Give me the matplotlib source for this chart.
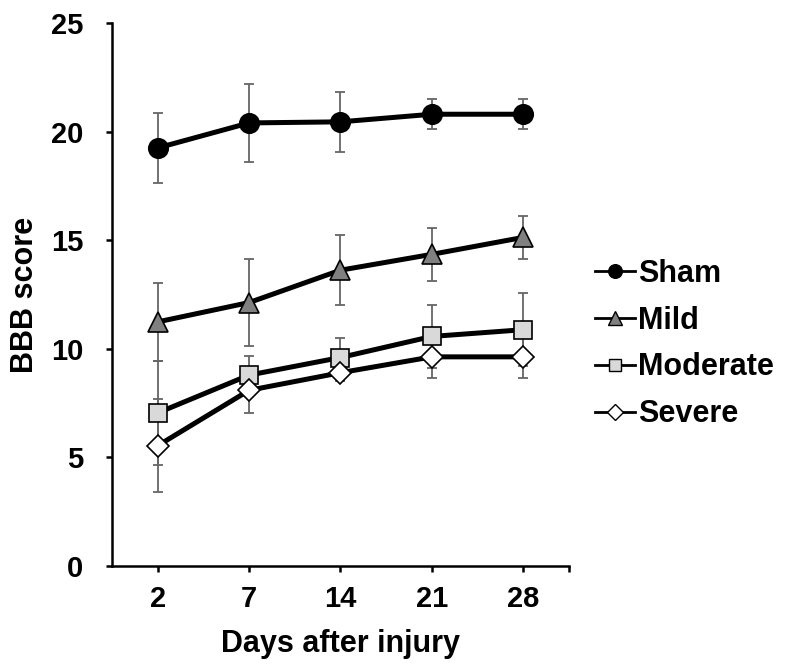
import matplotlib
matplotlib.use("Agg")
import matplotlib.pyplot as plt
from matplotlib.lines import Line2D

plt.rcParams["font.family"] = ["Liberation Sans", "DejaVu Sans"]
plt.rcParams["font.weight"] = "bold"

days = ["2", "7", "14", "21", "28"]
groups = ["Sham", "Mild", "Moderate", "Severe"]

sham = [19.25, 20.4, 20.45, 20.8, 20.8]
sham_err = [1.6, 1.8, 1.37, 0.7, 0.7]
mild = [11.24, 12.13, 13.62, 14.35, 15.13]
mild_err = [1.8, 2.0, 1.6, 1.22, 1.0]
moderate = [7.05, 8.79, 9.6, 10.57, 10.88]
moderate_err = [2.4, 0.88, 0.88, 1.44, 1.69]
severe = [5.54, 8.09, 8.9, 9.63, 9.63]
severe_err = [2.14, 1.03, 0.4, 0.96, 0.96]

series = [sham, mild, moderate, severe]
errors = [sham_err, mild_err, moderate_err, severe_err]
markers = ["o", "^", "s", "D"]
fills = ["black", "#808080", "#d9d9d9", "white"]
sizes = [14, 15, 13, 11]

fig = plt.figure(figsize=(7.85, 6.67), dpi=100)
ax = fig.add_axes([0.1427, 0.1514, 0.5821, 0.8141])
x = list(range(len(days)))

for vals, err in zip(series, errors):
    ax.errorbar(x, vals, yerr=err, fmt="none", ecolor="#666666",
                elinewidth=1.3, capsize=3.5, capthick=1.3, zorder=2)

handles = []
for vals, name, m, fc, ms in zip(series, groups, markers, fills, sizes):
    ax.plot(x, vals, color="black", linewidth=3.6, zorder=3)
    ax.plot(x, vals, linestyle="none", marker=m, markersize=ms,
            markerfacecolor=fc, markeredgecolor="black",
            markeredgewidth=1.2, zorder=4)
    handles.append(Line2D([], [], color="black", linewidth=2.0, marker=m,
                          markersize=ms * 0.7, markerfacecolor=fc,
                          markeredgecolor="black", markeredgewidth=1.0,
                          label=name))

ax.set_xlim(-0.5, 4.5)
ax.set_ylim(0, 25)
ax.set_xticks(x)
ax.set_xticklabels(days)
ax.set_xticks([4.5], minor=True)
ax.set_yticks([0, 5, 10, 15, 20, 25])
for s in ("top", "right"):
    ax.spines[s].set_visible(False)
for s in ("left", "bottom"):
    ax.spines[s].set_linewidth(1.8)
ax.tick_params(axis="both", which="both", direction="out", length=4.5,
               width=1.8, labelsize=21)
ax.tick_params(axis="x", pad=9)
ax.tick_params(axis="y", pad=16)
ax.set_xlabel("Days after injury", fontsize=22, fontweight="bold", labelpad=12)
ax.set_ylabel("BBB score", fontsize=22, fontweight="bold", labelpad=8)

fig.legend(handles=handles, loc="upper left",
           bbox_to_anchor=(0.758, 0.612), frameon=False, fontsize=22,
           handlelength=1.3, handletextpad=0.1, labelspacing=0.55,
           borderpad=0, borderaxespad=0)

fig.savefig("out.png", dpi=100, facecolor="white")
